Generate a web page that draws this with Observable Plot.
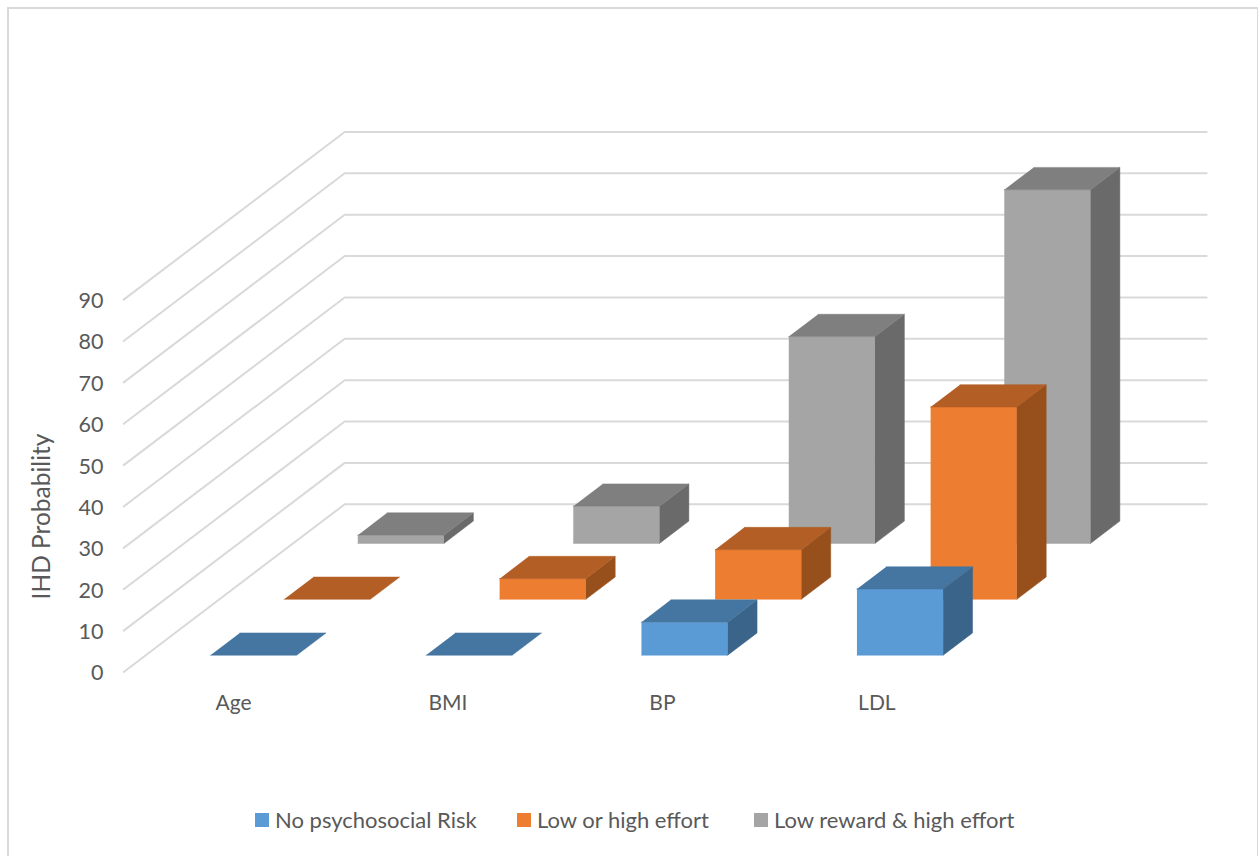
<!DOCTYPE html>
<html>
<head>
<meta charset="utf-8">
<script src="https://cdn.jsdelivr.net/npm/d3@7"></script>
<script src="https://cdn.jsdelivr.net/npm/@observablehq/plot@0.6"></script>
<style>
  html, body { margin: 0; padding: 0; background: #fff; overflow: hidden; }
  body { width: 1258px; height: 856px; position: relative; font-family: Lato, sans-serif; }
  .frame { position: absolute; left: 7px; top: 7px; width: 1248px; height: 900px; border: 2px solid #d9d9d9; pointer-events: none; }
  #chart svg { display: block; background: none; }
  .legend { display: grid; grid-template-columns: 262px 237px auto; margin-left: 255px; height: 66px; align-items: start; color: #595959; font-size: 22px; line-height: 1; padding-top: 19px; box-sizing: border-box; }
  .legend-item { display: flex; align-items: center; gap: 6px; white-space: nowrap; }
  .legend-swatch { width: 14px; height: 14px; flex: none; }
</style>
</head>
<body>
<div class="frame"></div>
<div id="chart"></div>
<div class="legend" id="legend"></div>
<script>
// Chart values
const categories = ["Age", "BMI", "BP", "LDL"];
const seriesNames = ["No psychosocial Risk", "Low or high effort", "Low reward & high effort"];
const noRisk = [0, 0, 8, 16];
const lowOrHighEffort = [0, 5, 12, 46.5];
const lowRewardHighEffort = [2, 9, 50, 85.5];
const yTicks = [0, 10, 20, 30, 40, 50, 60, 70, 80, 90];

// Face colours per series: front, top, side
const frontColors = ["#5b9bd5", "#ed7d31", "#a5a5a5"];
const topColors = ["#4576a2", "#b35e25", "#7f7f7f"];
const sideColors = ["#3a6489", "#97501c", "#6a6a6a"];

// Oblique projection: depth 0 is the front of the floor, depth 1 the back wall.
// Model x is in category widths, model y in value units.
const depthToX = 1.0255;
const depthToY = 40.54;
const barGap = 0.3;
const barWidth = 0.4;
const barDepth = 0.133;
const slotOffset = 0.1;
const project = (x, v, depth) => ({x: x + depth * depthToX, y: v + depth * depthToY});

const seriesValues = [noRisk, lowOrHighEffort, lowRewardHighEffort];

// Wall and floor grid lines: one polyline per tick
const gridPoints = yTicks.flatMap((v) => [
  {key: v, ...project(0, v, 0)},
  {key: v, ...project(0, v, 1)},
  {key: v, ...project(categories.length, v, 1)}
]);

// Three visible faces of every bar, painted from the back row forward
const facePoints = [];
for (const s of [2, 1, 0]) {
  const d0 = slotOffset + s / 3;
  const d1 = d0 + barDepth;
  seriesValues[s].forEach((v, c) => {
    const x0 = c + barGap;
    const x1 = x0 + barWidth;
    const addFace = (name, color, corners) => corners.forEach(([x, y, d]) =>
      facePoints.push({face: `${s}-${c}-${name}`, color, ...project(x, y, d)}));
    if (v > 0) {
      addFace("front", frontColors[s], [[x0, 0, d0], [x1, 0, d0], [x1, v, d0], [x0, v, d0]]);
      addFace("side", sideColors[s], [[x1, 0, d0], [x1, 0, d1], [x1, v, d1], [x1, v, d0]]);
    }
    addFace("top", topColors[s], [[x0, v, d0], [x1, v, d0], [x1, v, d1], [x0, v, d1]]);
  });
}

const width = 1258;
const height = 790;
const axisRight = 103;
const floorLeft = 123.2;
const floorBaseline = 671.5;
const pxPerCategory = 215.5;
const pxPerUnit = 4.137;
const textColor = "#595959";
const labelSize = 21.5;

const chart = Plot.plot({
  width,
  height,
  marginLeft: axisRight,
  marginRight: 0,
  marginTop: 0,
  marginBottom: 0,
  style: {fontFamily: "Lato, sans-serif", color: textColor, background: "none"},
  x: {
    axis: null,
    domain: [(axisRight - floorLeft) / pxPerCategory, (width - floorLeft) / pxPerCategory],
    range: [axisRight, width]
  },
  y: {
    axis: null,
    domain: [(floorBaseline - height) / pxPerUnit, floorBaseline / pxPerUnit],
    range: [height, 0]
  },
  marks: [
    Plot.line(gridPoints, {x: "x", y: "y", z: "key", stroke: "#d9d9d9", strokeWidth: 2}),
    Plot.line(facePoints, {x: "x", y: "y", z: "face", fill: "color", stroke: "color", strokeWidth: 0.5}),
    Plot.axisY(yTicks, {anchor: "left", tickSize: 0, tickPadding: 0, label: null, fontSize: labelSize, dy: 1.5, fill: textColor}),
    Plot.text(categories, {
      x: (d, i) => 0.51 + i * 0.995,
      y: -7.5,
      text: (d) => d,
      fontSize: 21,
      fill: textColor
    }),
    Plot.text(["IHD Probability"], {
      x: (42 - floorLeft) / pxPerCategory,
      y: (floorBaseline - 516) / pxPerUnit,
      text: (d) => d,
      rotate: -90,
      fontSize: 24.5,
      fill: textColor
    })
  ]
});
document.getElementById("chart").append(chart);

// Legend row beneath the plot
const legend = d3.select("#legend");
seriesNames.forEach((name, i) => {
  const item = legend.append("div").attr("class", "legend-item");
  item.append("div").attr("class", "legend-swatch").style("background", frontColors[i]);
  item.append("span").text(name);
});
</script>
</body>
</html>
